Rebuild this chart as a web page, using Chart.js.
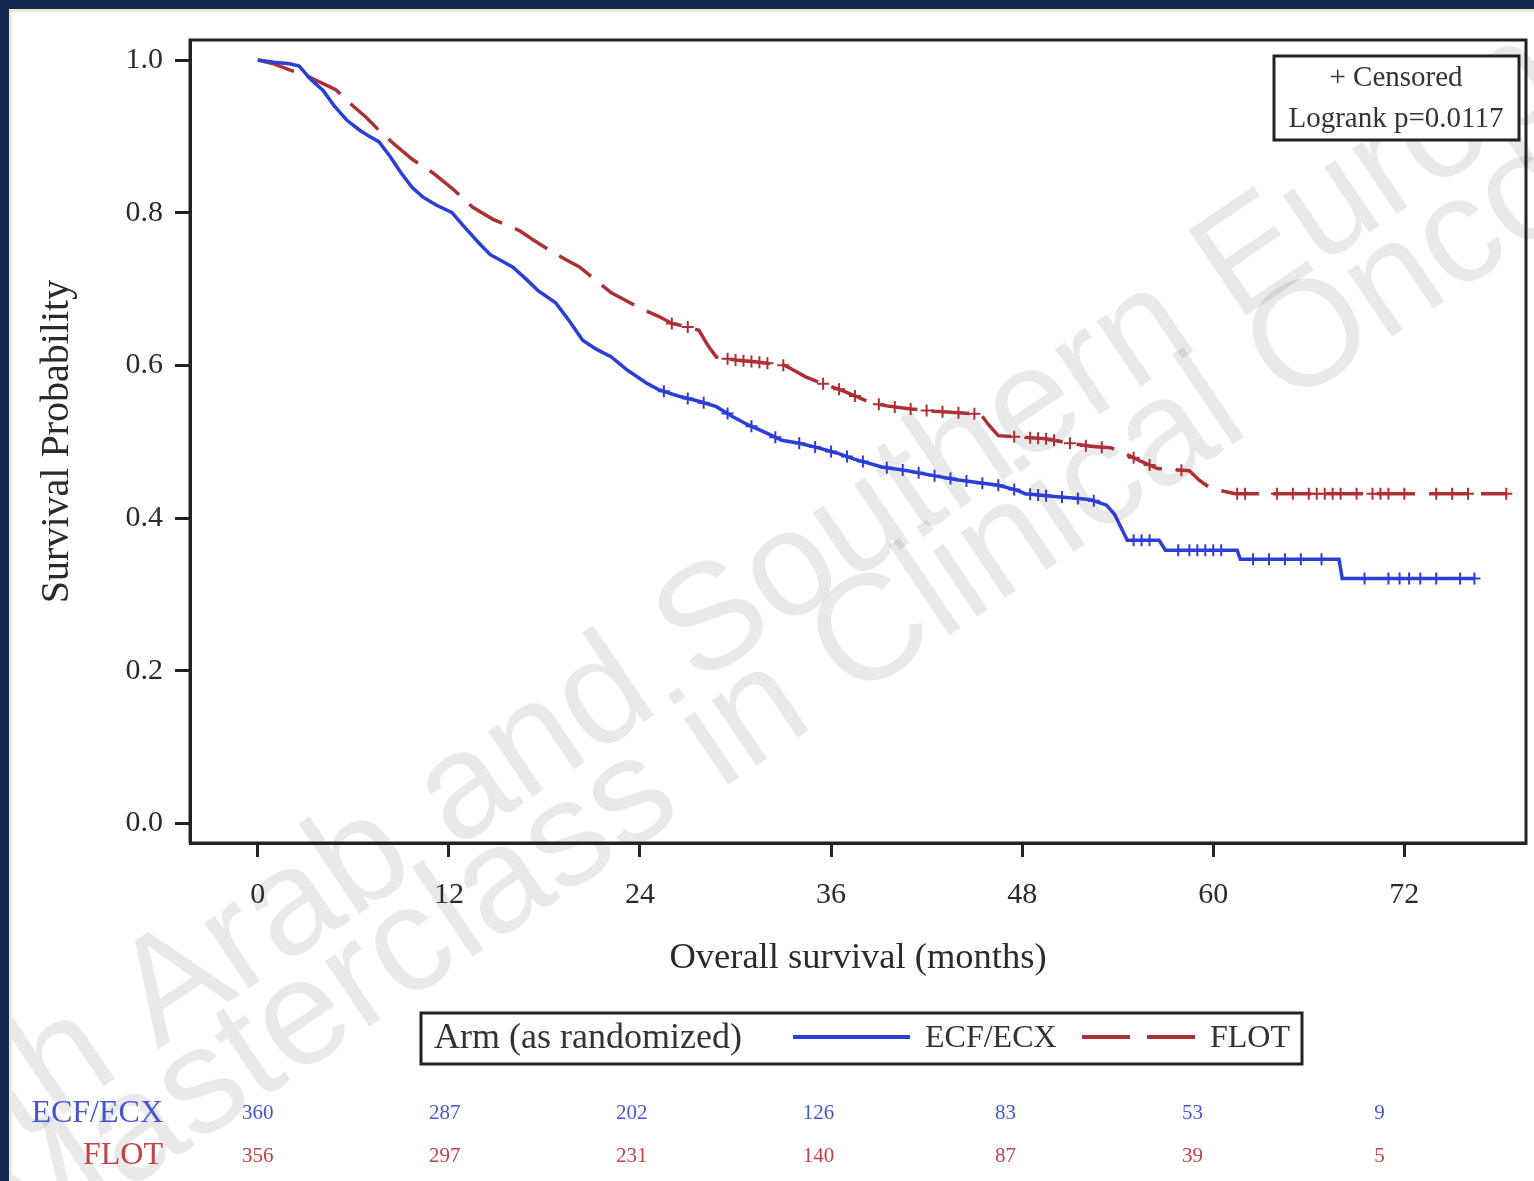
<!DOCTYPE html>
<html><head><meta charset="utf-8">
<script src="https://cdn.jsdelivr.net/npm/chart.js@4/dist/chart.umd.min.js"></script>
<style>html,body{margin:0;padding:0;background:#fff}#wrap{position:relative;width:1534px;height:1181px}</style>
</head><body><div id="wrap"><canvas id="c"></canvas></div>
<script>
// ---- Data (Kaplan-Meier curves, months / survival probability) ----
const ecfTimes = [0,1.0,2.0,2.6,3.3,4.1,4.8,5.6,6.4,7.0,7.6,8.3,9.0,9.7,10.4,11.2,12.2,12.9,13.9,14.6,15.3,16.0,16.8,17.6,18.7,19.5,20.4,21.2,22.2,23.2,24.4,25.2,26.4,27.7,28.8,29.8,30.8,32.0,32.9,34.0,35.2,36.4,37.5,39.2,40.8,42.6,44.0,46.5,47.6,48.2,50.2,51.4,52.3,53.3,53.8,54.2,54.6,56.6,57.0,61.5,61.7,67.9,68.1,76.4];
const ecfSurv  = [1.0,0.997,0.995,0.992,0.975,0.960,0.940,0.921,0.908,0.900,0.893,0.874,0.852,0.833,0.820,0.810,0.800,0.783,0.760,0.745,0.737,0.729,0.714,0.698,0.682,0.660,0.633,0.622,0.611,0.594,0.577,0.568,0.560,0.553,0.546,0.533,0.522,0.511,0.502,0.498,0.492,0.485,0.477,0.467,0.462,0.455,0.450,0.443,0.437,0.432,0.428,0.426,0.424,0.417,0.405,0.388,0.371,0.371,0.358,0.358,0.346,0.346,0.321,0.321];
const flotTimes = [0,1.0,2.0,3.0,4.0,4.9,5.8,6.8,7.6,8.5,9.7,11.0,12.2,13.5,14.8,16.4,17.4,18.4,19.3,20.2,21.2,22.2,23.2,24.2,25.2,26.0,27.1,27.7,28.3,28.8,30.0,31.5,33.1,33.8,34.4,35.5,36.6,37.5,38.5,39.5,41.0,42.5,44.0,45.4,45.9,46.5,48.0,49.5,51.0,52.3,53.6,54.4,55.4,56.5,58.5,59.1,59.7,60.5,61.4,78.4];
const flotSurv  = [1.0,0.995,0.987,0.980,0.970,0.961,0.943,0.925,0.908,0.891,0.870,0.852,0.832,0.807,0.791,0.777,0.763,0.750,0.739,0.729,0.712,0.695,0.684,0.673,0.664,0.655,0.650,0.646,0.625,0.611,0.607,0.604,0.600,0.592,0.585,0.576,0.568,0.560,0.551,0.547,0.543,0.540,0.538,0.536,0.522,0.508,0.506,0.504,0.498,0.494,0.492,0.485,0.475,0.465,0.462,0.450,0.441,0.436,0.432,0.432];
const ecfCensorTimes  = [25.5,27,28,29.5,31,32.5,34,35,36,37,38,39.5,40.5,41.5,42.5,43.5,44.5,45.5,46.5,47.5,48.5,49,49.5,50.5,51.5,52.5,55.0,55.5,56.0,57.8,58.5,59.0,59.5,60.0,60.5,62.5,63.5,64.5,65.5,66.8,69.5,71.0,71.7,72.3,73.0,74.0,75.5,76.4];
const flotCensorTimes = [26.0,27.0,29.5,30.0,30.5,31.0,31.5,32.0,33.0,35.5,36.5,37.5,39.0,40.0,41.0,42.0,43.0,44.0,45.0,47.5,48.5,49.0,49.5,50.0,51.0,52.0,53.0,55.0,56.0,58.0,61.5,62.0,64.0,65.0,66.0,66.5,67.0,67.5,68.0,69.0,70.0,70.5,71.0,72.0,74.0,75.0,76.0,78.4];
const xTickValues = [0,12,24,36,48,60,72];
const yTickValues = [0.0,0.2,0.4,0.6,0.8,1.0];
const atRiskTimes = [0,12,24,36,48,60,72];
const atRiskECF  = [360,287,202,126,83,53,9];
const atRiskFLOT = [356,297,231,140,87,39,5];
const seriesNames = ['ECF/ECX','FLOT'];
const legendTitle = 'Arm (as randomized)';
const censorLabel = '+ Censored';
const logrankLabel = 'Logrank p=0.0117';
const xTitle = 'Overall survival (months)';
const yTitle = 'Survival Probability';
const watermarkLines = ['5th Arab and Southern European','Masterclass in Clinical Oncology'];

// ---- styles ----
const BLUE = '#2b3fd6', RED = '#ad3036';
const BLUE_TXT = '#4656d2', RED_TXT = '#c04444';
const SERIF = '"Liberation Serif","DejaVu Serif",serif';
const INK = '#2b2b2b';

// position of a censor mark on the drawn curve
function onCurve(times, surv, t){
  for (let i=1;i<times.length;i++){
    if (t <= times[i]){
      const f = (t - times[i-1])/(times[i]-times[i-1] || 1);
      return surv[i-1] + f*(surv[i]-surv[i-1]);
    }
  }
  return surv[surv.length-1];
}
const pts = (ts, ss) => ts.map((t,i)=>({x:t,y:ss[i]}));
const cens = (ct, ts, ss) => ct.map(t=>({x:t,y:onCurve(ts,ss,t)}));

const decor = {
  id:'decor',
  beforeDraw(chart){
    const ctx = chart.ctx, W = chart.width, H = chart.height;
    ctx.save();
    ctx.fillStyle = '#ffffff'; ctx.fillRect(0,0,W,H);
    // watermark
    ctx.fillStyle = 'rgba(0,0,0,0.085)';
    ctx.font = '150px "Liberation Sans", Arial, sans-serif';
    ctx.textBaseline = 'alphabetic';
    const ang = -34*Math.PI/180;
    const origins = [[-50,1190],[22,1261]];
    watermarkLines.forEach((txt,i)=>{
      ctx.save(); ctx.translate(origins[i][0], origins[i][1]); ctx.rotate(ang);
      ctx.fillText(txt,0,0); ctx.restore();
    });
    // slide frame
    ctx.fillStyle = '#13284c';
    ctx.fillRect(0,0,W,9); ctx.fillRect(0,0,9,H);
    ctx.fillStyle = '#efe9c8';
    ctx.fillRect(9,9,W-9,3); ctx.fillRect(9,9,3,H-9);
    ctx.restore();
  },
  afterDatasetsDraw(chart){
    const ctx = chart.ctx, a = chart.chartArea;
    ctx.save();
    ctx.strokeStyle = '#222'; ctx.lineWidth = 3;
    ctx.beginPath();
    ctx.moveTo(a.left, a.bottom); ctx.lineTo(a.left, a.top); ctx.lineTo(a.right, a.top); ctx.lineTo(a.right, a.bottom); ctx.lineTo(a.left,a.bottom);
    ctx.stroke();
    ctx.restore();
  },
  afterDraw(chart){
    const ctx = chart.ctx;
    const x2 = chart.scales.x2;
    ctx.save();
    // censored / logrank box
    ctx.strokeStyle = '#222'; ctx.lineWidth = 3;
    ctx.fillStyle = '#fff';
    ctx.fillRect(1274,56,245,84);
    ctx.strokeRect(1274,56,245,84);
    ctx.fillStyle = '#333'; ctx.font = '29px '+SERIF;
    ctx.textAlign = 'center'; ctx.textBaseline = 'middle';
    ctx.fillText(censorLabel, 1396, 78);
    ctx.fillText(logrankLabel, 1396, 119);
    // legend box
    ctx.strokeRect(421,1013,881,51);
    ctx.textAlign = 'left'; ctx.fillStyle = '#333';
    ctx.font = '36px '+SERIF;
    ctx.fillText(legendTitle, 434, 1039);
    ctx.font = '32px '+SERIF;
    ctx.lineWidth = 4;
    ctx.strokeStyle = BLUE; ctx.beginPath(); ctx.moveTo(793,1037); ctx.lineTo(910,1037); ctx.stroke();
    ctx.fillText(seriesNames[0], 925, 1039);
    ctx.strokeStyle = RED; ctx.setLineDash([48,17]); ctx.beginPath(); ctx.moveTo(1082,1037); ctx.lineTo(1195,1037); ctx.stroke();
    ctx.setLineDash([]);
    ctx.fillText(seriesNames[1], 1210, 1039);
    // at-risk table
    ctx.textAlign = 'right'; ctx.font = '32px '+SERIF;
    ctx.fillStyle = BLUE_TXT; ctx.fillText(seriesNames[0], 163, 1114);
    ctx.fillStyle = RED_TXT; ctx.fillText(seriesNames[1], 163, 1156);
    ctx.textAlign = 'center'; ctx.font = '21px '+SERIF;
    atRiskTimes.forEach((t,i)=>{
      const px = x2.getPixelForValue(t);
      ctx.fillStyle = BLUE_TXT; ctx.fillText(String(atRiskECF[i]), px, 1113);
      ctx.fillStyle = RED_TXT; ctx.fillText(String(atRiskFLOT[i]), px, 1156);
    });
    ctx.restore();
  }
};

new Chart(document.getElementById('c'), {
  type:'line',
  data:{ datasets:[
    {label:seriesNames[0], data:pts(ecfTimes,ecfSurv), borderColor:BLUE, borderWidth:3.5, tension:0, pointRadius:0, fill:false},
    {label:seriesNames[1], data:pts(flotTimes,flotSurv), borderColor:RED, borderWidth:3.5, borderDash:[38,14], tension:0, pointRadius:0, fill:false},
    {label:seriesNames[0]+' censored', data:cens(ecfCensorTimes,ecfTimes,ecfSurv), showLine:false, pointStyle:'cross', pointRadius:6, pointBorderWidth:2, borderColor:BLUE, backgroundColor:BLUE},
    {label:seriesNames[1]+' censored', data:cens(flotCensorTimes,flotTimes,flotSurv), showLine:false, pointStyle:'cross', pointRadius:6, pointBorderWidth:2, borderColor:RED, backgroundColor:RED}
  ]},
  options:{
    responsive:true, maintainAspectRatio:false, animation:false,
    layout:{padding:{top:40,right:4,left:0,bottom:0}},
    plugins:{legend:{display:false}, tooltip:{enabled:false}, title:{display:false}},
    scales:{
      x:{type:'linear', position:'bottom', min:-4.257, max:79.64,
        afterBuildTicks(s){ s.ticks = xTickValues.map(v=>({value:v})); },
        afterFit(s){ s.height = 338; },
        grid:{drawOnChartArea:false, drawTicks:true, tickLength:14, tickWidth:3, tickColor:'#222'},
        border:{display:true, color:'#222', width:3},
        ticks:{color:INK, font:{family:SERIF, size:30}, padding:20, maxRotation:0, autoSkip:false},
        title:{display:true, text:xTitle, color:INK, font:{family:SERIF, size:36.5}, padding:{top:0,bottom:201}}
      },
      x2:{type:'linear', display:false, min:-4.352, max:81.41},
      y:{type:'linear', position:'left', min:-0.0255, max:1.0262,
        afterBuildTicks(s){ s.ticks = yTickValues.map(v=>({value:v})); },
        afterFit(s){ s.width = 190; },
        grid:{drawOnChartArea:false, drawTicks:true, tickLength:15, tickWidth:3, tickColor:'#222'},
        border:{display:true, color:'#222', width:3},
        ticks:{color:INK, font:{family:SERIF, size:30}, padding:12, callback:v=>Number(v).toFixed(1)},
        title:{display:true, text:yTitle, color:INK, font:{family:SERIF, size:40}, padding:{top:33,bottom:0}}
      }
    }
  },
  plugins:[decor]
});
</script></body></html>
